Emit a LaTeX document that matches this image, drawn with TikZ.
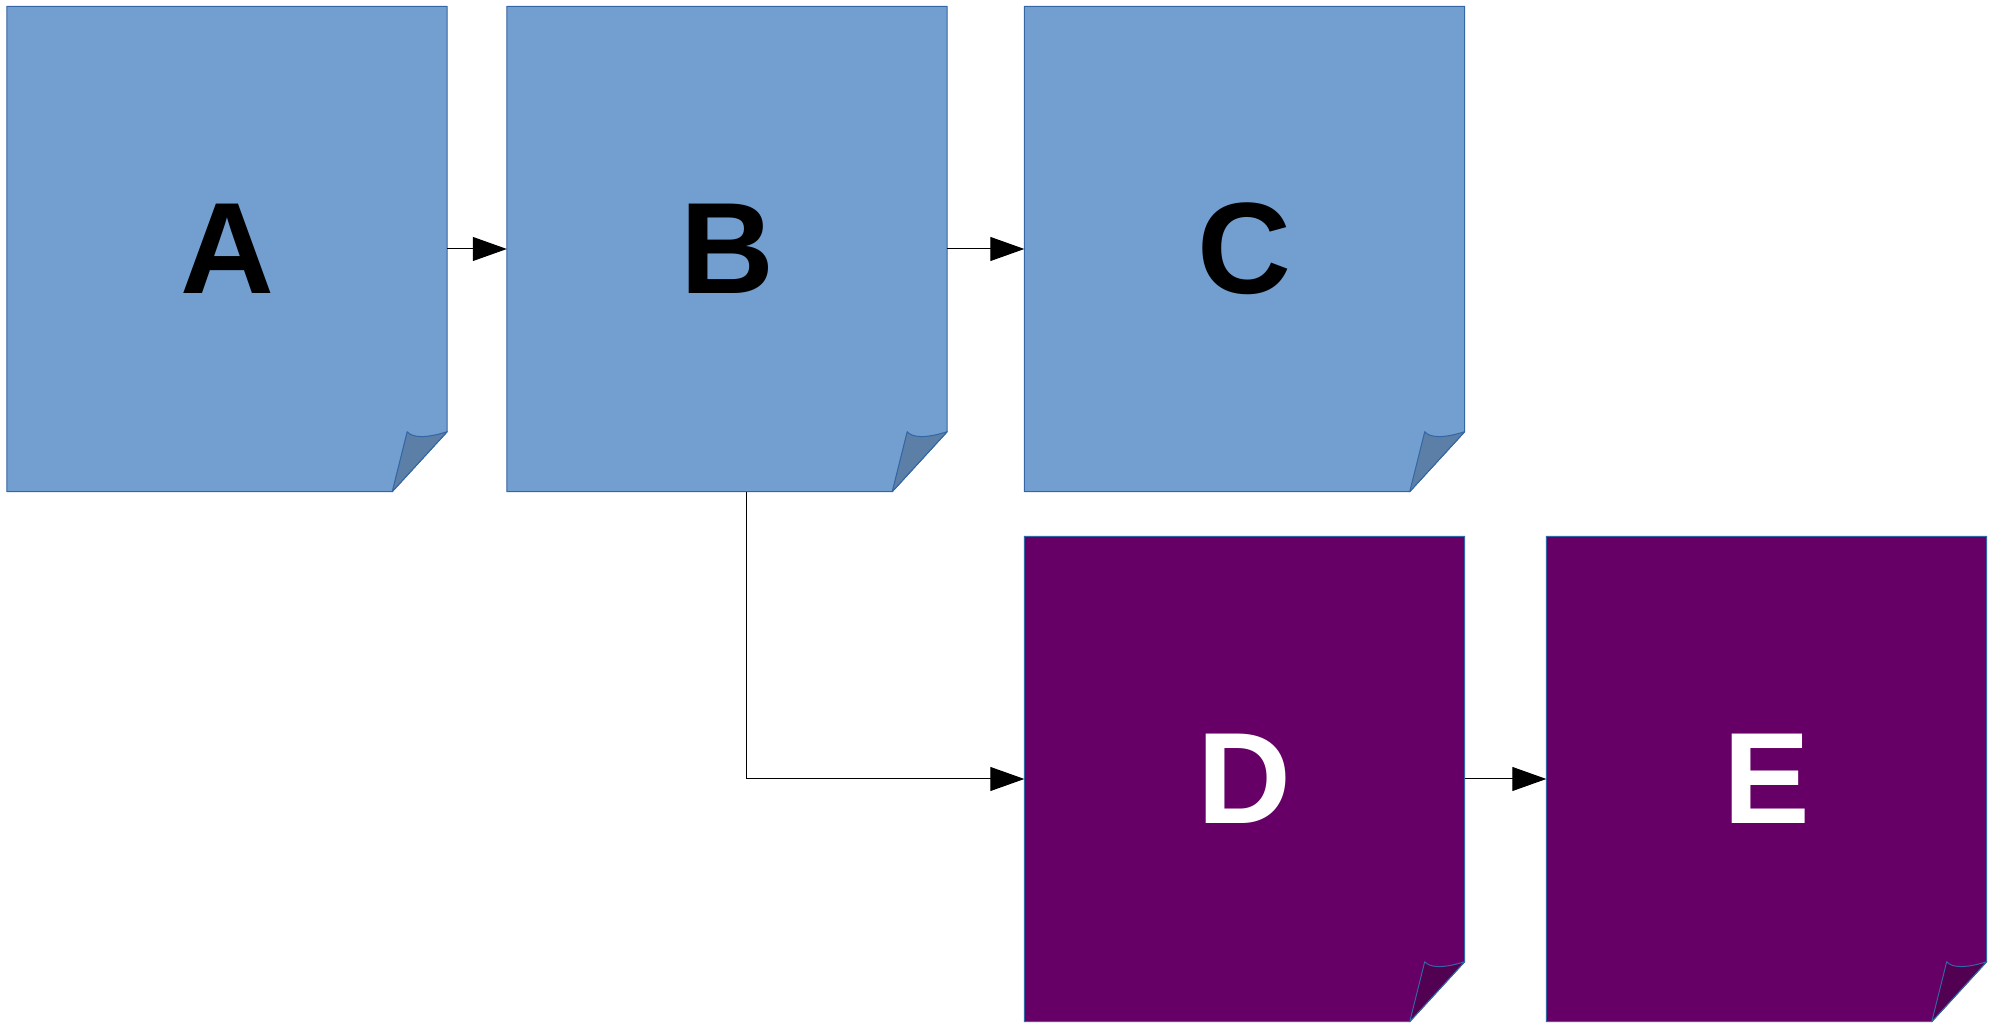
\documentclass[tikz,border=0pt]{standalone}
\usepackage{xcolor}
\usepackage{fontspec}
\setmainfont{Liberation Sans}
\usepackage{tikz}
\usetikzlibrary{calc}
\usetikzlibrary{arrows.meta}

\definecolor{skyblue}{HTML}{729FCF}
\definecolor{skyfold}{HTML}{5B7FA6}
\definecolor{plum}{HTML}{660066}
\definecolor{plumfold}{HTML}{520052}
\definecolor{edgeblue}{HTML}{3465A4}

\tikzstyle{every node}=[font=\fontsize{130}{130}\selectfont\bfseries]
\tikzstyle{page}=[minimum width=440pt, minimum height=485pt, inner sep=0pt, draw=none]
\tikzstyle{rim}=[draw=edgeblue, line width=1pt, line join=round]
\tikzstyle{link}=[line width=1pt, -{Triangle[length=34pt,width=24pt]}]

% #1 name, #2 position, #3 letter, #4 fill, #5 fold, #6 text colour
\newcommand{\docpage}[6]{
    \node[page, text=#6] (#1) at #2 {#3};
    \draw[rim, fill=#4] (#1.north west) -- (#1.north east) -- ($(#1.south east)+(0,60)$)
        -- ($(#1.south east)+(-55,0)$) -- (#1.south west) -- cycle;
    \draw[rim, fill=#5] ($(#1.south east)+(-40,60)$)
        .. controls ($(#1.south east)+(-35,54)$) and ($(#1.south east)+(-22,53)$) .. ($(#1.south east)+(0,60)$)
        -- ($(#1.south east)+(-55,0)$) -- cycle;
    \node[page, text=#6] at #2 {#3};
}

\begin{document}
\begin{tikzpicture}[x=1pt, y=1pt]
            \useasboundingbox (0,0) rectangle (2001,1022);

            \docpage{A}{(227,773)}{A}{skyblue}{skyfold}{black}
            \docpage{B}{(727,773)}{B}{skyblue}{skyfold}{black}
            \docpage{C}{(1244.5,773)}{C}{skyblue}{skyfold}{black}
            \docpage{D}{(1244.5,243)}{D}{plum}{plumfold}{white}
            \docpage{E}{(1766.5,243)}{E}{plum}{plumfold}{white}

            \draw [link] (A.east) -- (B.west);
            \draw [link] (B.east) -- (C.west);
            \draw [link] ($(B.south)+(19,0)$) |- (D.west);
            \draw [link] (D.east) -- (E.west);
        \end{tikzpicture}
\end{document}
